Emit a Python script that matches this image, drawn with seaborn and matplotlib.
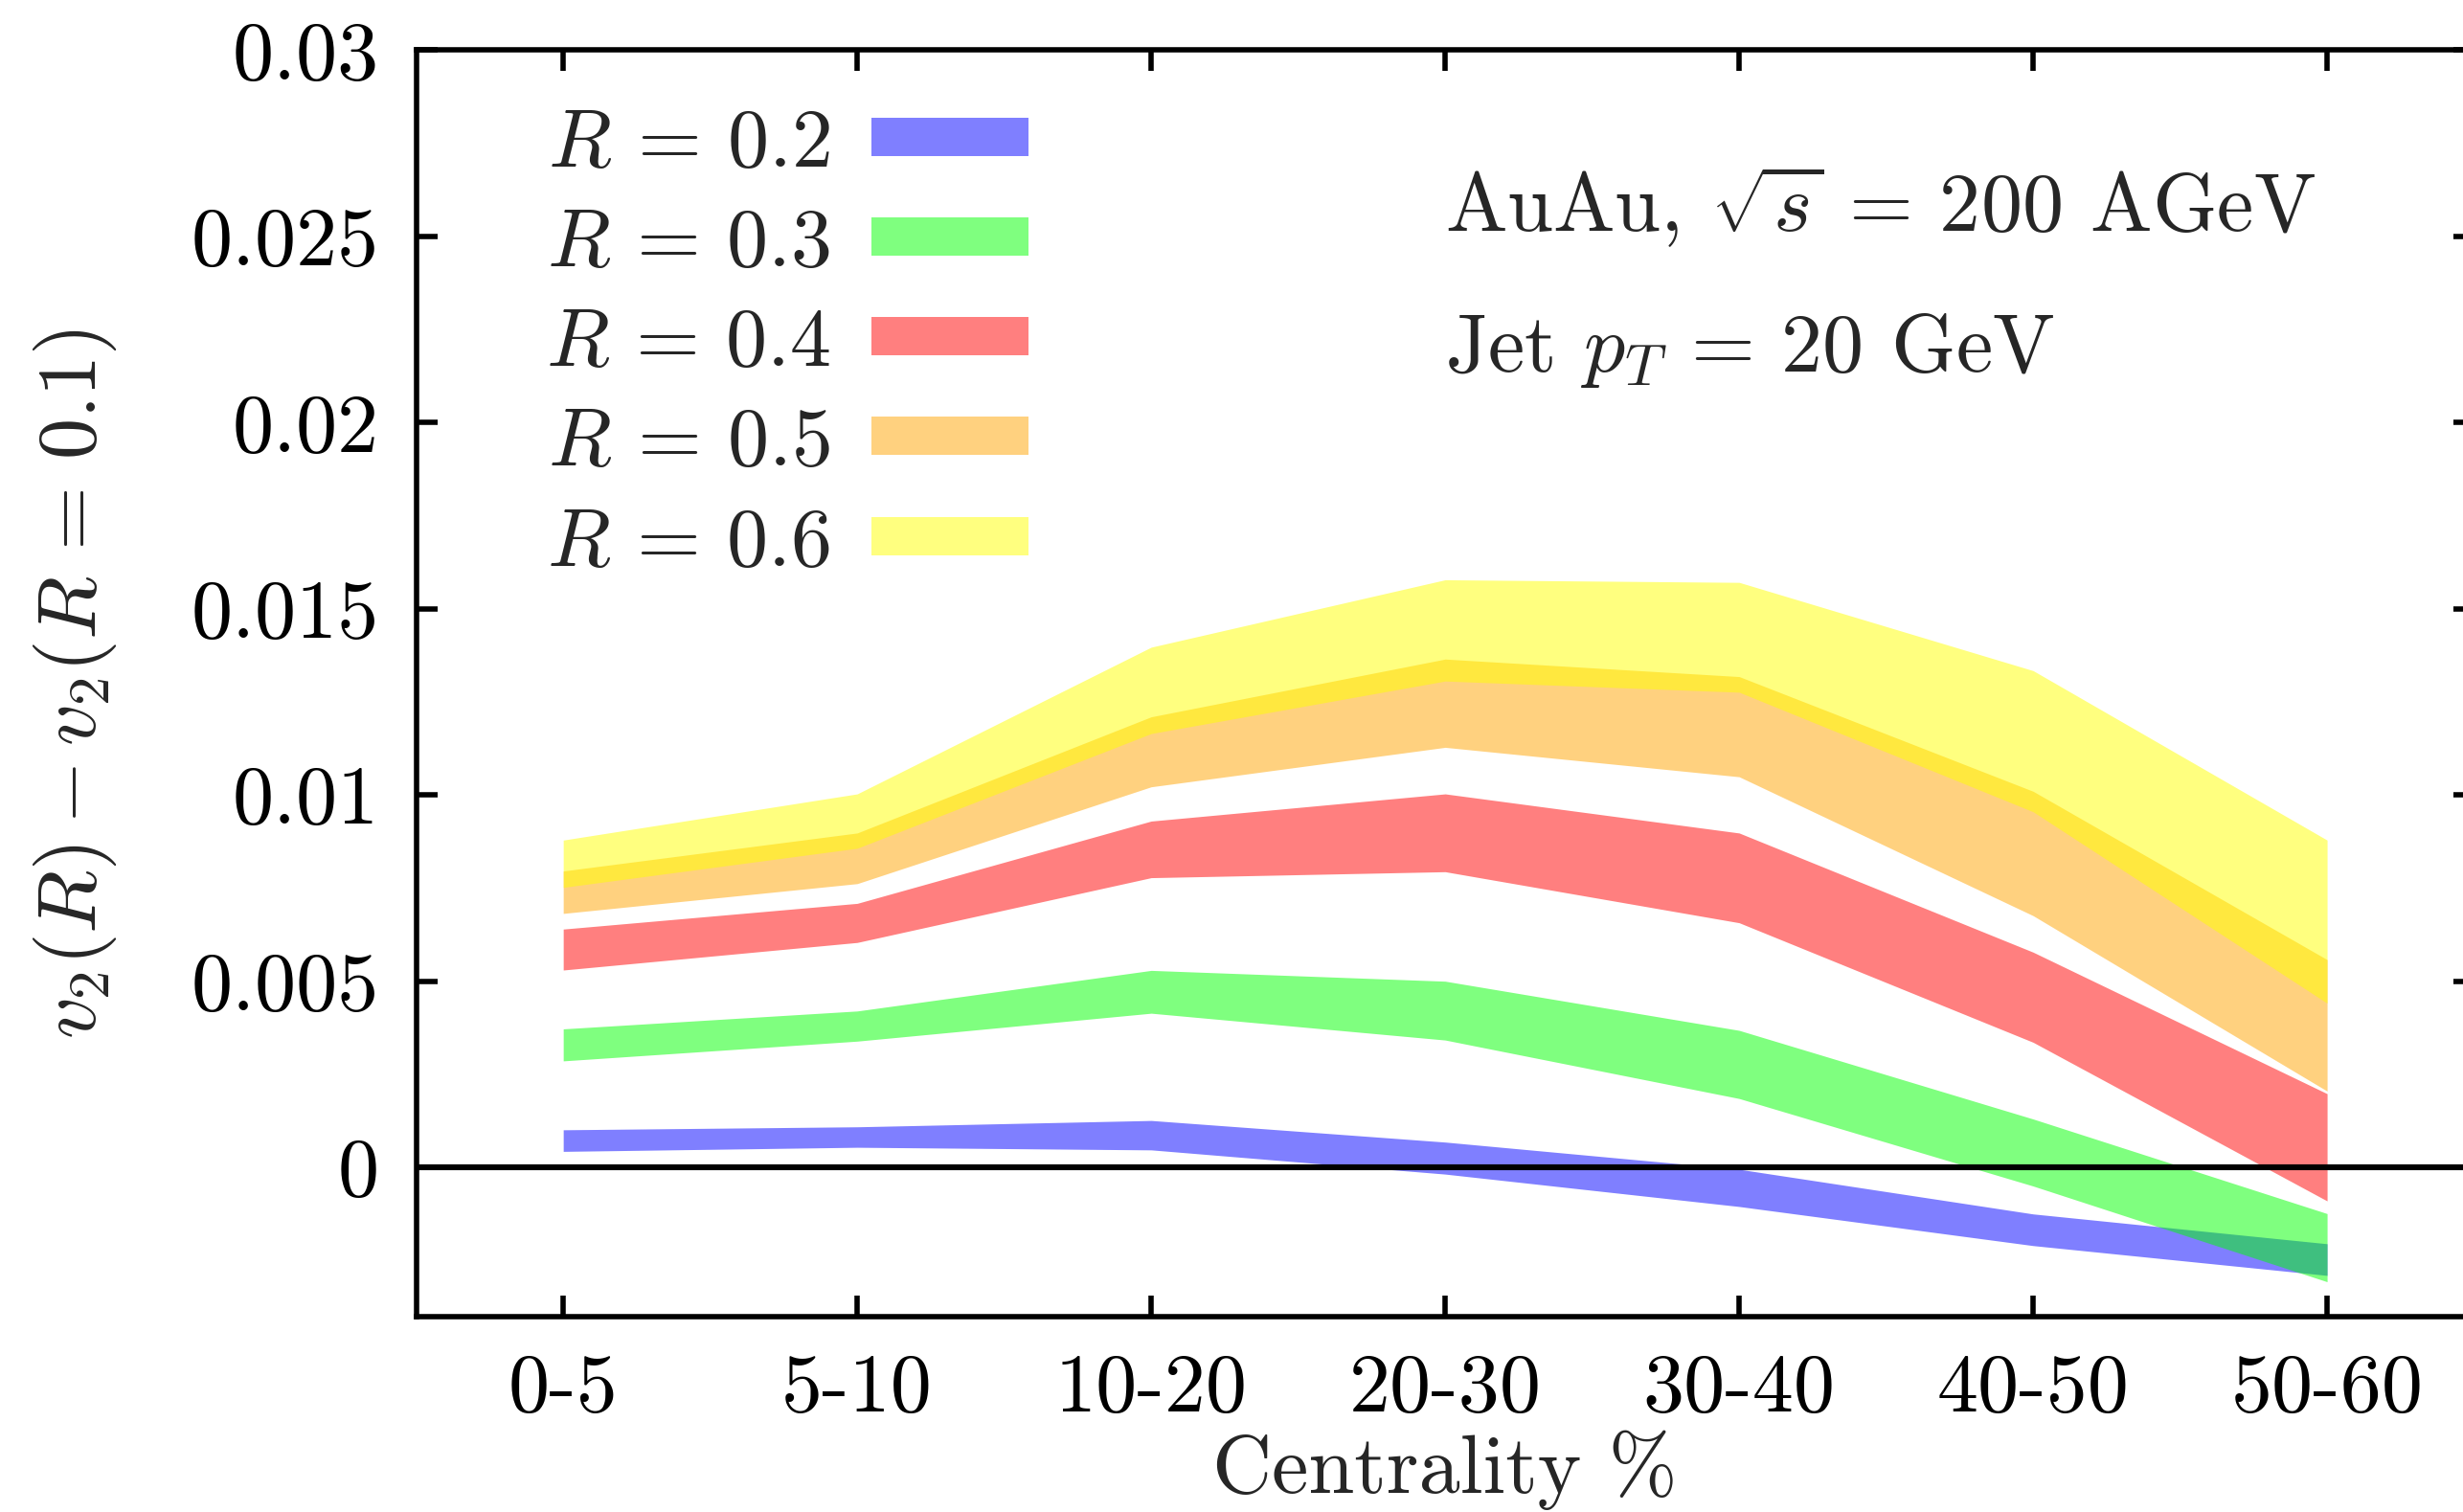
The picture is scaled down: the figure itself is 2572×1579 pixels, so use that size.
import numpy as np
import pandas as pd
import matplotlib
matplotlib.use("Agg")
import matplotlib.pyplot as plt
from matplotlib.patches import Patch
import seaborn as sns

# centrality bins
cent_labels = ['0-5', '5-10', '10-20', '20-30', '30-40', '40-50', '50-60']

# band edges v2(R) - v2(R=0.1)
r02_lo = [0.00043, 0.00054, 0.00047, -0.00018, -0.00105, -0.00210, -0.00290]
r02_hi = [0.00101, 0.00109, 0.00126, 0.00068, -0.00005, -0.00125, -0.00205]
r03_lo = [0.00286, 0.00339, 0.00414, 0.00342, 0.00185, -0.00050, -0.00307]
r03_hi = [0.00372, 0.00420, 0.00529, 0.00500, 0.00368, 0.00130, -0.00124]
r04_lo = [0.00530, 0.00604, 0.00778, 0.00794, 0.00657, 0.00336, -0.00090]
r04_hi = [0.00640, 0.00709, 0.00930, 0.01003, 0.00898, 0.00578, 0.00198]
r05_lo = [0.00682, 0.00762, 0.01022, 0.01128, 0.01049, 0.00676, 0.00205]
r05_hi = [0.00796, 0.00898, 0.01210, 0.01365, 0.01318, 0.01010, 0.00558]
r06_lo = [0.00752, 0.00857, 0.01165, 0.01306, 0.01276, 0.00955, 0.00441]
r06_hi = [0.00879, 0.01003, 0.01397, 0.01578, 0.01571, 0.01334, 0.00879]

r_labels = [r'$R\,=\,0.2$', r'$R\,=\,0.3$', r'$R\,=\,0.4$', r'$R\,=\,0.5$', r'$R\,=\,0.6$']
r_colors = ['#0000ff', '#00ff00', '#ff0000', '#ffa500', '#ffff00']

y_ticks = [0, 0.005, 0.01, 0.015, 0.02, 0.025, 0.03]
y_tick_labels = ['0', '0.005', '0.01', '0.015', '0.02', '0.025', '0.03']

# long-form table: two rows (lo, hi) per bin, band = min..max
bands = [(r02_lo, r02_hi), (r03_lo, r03_hi), (r04_lo, r04_hi),
         (r05_lo, r05_hi), (r06_lo, r06_hi)]
rows = []
for lab, (lo, hi) in zip(r_labels, bands):
    for i in range(len(cent_labels)):
        rows.append({'pos': i, 'value': lo[i], 'R': lab})
        rows.append({'pos': i, 'value': hi[i], 'R': lab})
df = pd.DataFrame(rows)

sns.set_theme(style='ticks')
plt.rcParams['font.family'] = 'cmr10'
plt.rcParams['mathtext.fontset'] = 'cm'
plt.rcParams['axes.formatter.use_mathtext'] = True
plt.rcParams['axes.unicode_minus'] = False

FS = 31

fig = plt.figure(figsize=(12.86, 7.895), dpi=200)
ax = fig.add_axes([0.169, 0.1294, 0.8355, 0.8374])

sns.lineplot(data=df, x='pos', y='value', hue='R', hue_order=r_labels,
             palette=dict(zip(r_labels, r_colors)), errorbar=('pi', 100),
             err_kws={'alpha': 0.5, 'linewidth': 0}, linewidth=0,
             legend=False, ax=ax)

ax.axhline(0, color='black', lw=2.2)

ax.set_xlim(-0.5, 6.5)
ax.set_ylim(-0.004, 0.03)
ax.set_xticks(range(len(cent_labels)))
ax.set_xticklabels(cent_labels)
ax.set_yticks(y_ticks)
ax.set_yticklabels(y_tick_labels)

for s in ax.spines.values():
    s.set_linewidth(2)
    s.set_color('black')
ax.tick_params(direction='in', length=8, width=2, top=True, right=True,
               labelsize=FS, colors='black', pad=14)

ax.set_xlabel('Centrality %', fontsize=FS)
ax.set_ylabel(r'$v_2(R) - v_2(R\,=\,0.1)$', fontsize=FS)
ax.xaxis.set_label_coords(0.5, -0.09)
ax.yaxis.set_label_coords(-0.1446, 0.5)

handles = [Patch(facecolor=c, alpha=0.5, linewidth=0) for c in r_colors]
ax.legend(handles, r_labels, loc='upper right', bbox_to_anchor=(0.2975, 0.954),
          frameon=False, markerfirst=False, fontsize=FS, handlelength=1.9,
          handleheight=0.34, labelspacing=0.31, handletextpad=0.5,
          borderpad=0, borderaxespad=0)

ax.text(0.5, 0.857, r'AuAu, $\sqrt{s}\,=\,200$ AGeV', transform=ax.transAxes,
        fontsize=FS, va='baseline', ha='left')
ax.text(0.5, 0.746, r'Jet $p_T\,=\,20$ GeV', transform=ax.transAxes,
        fontsize=FS, va='baseline', ha='left')

fig.savefig('out.png', dpi=200)
